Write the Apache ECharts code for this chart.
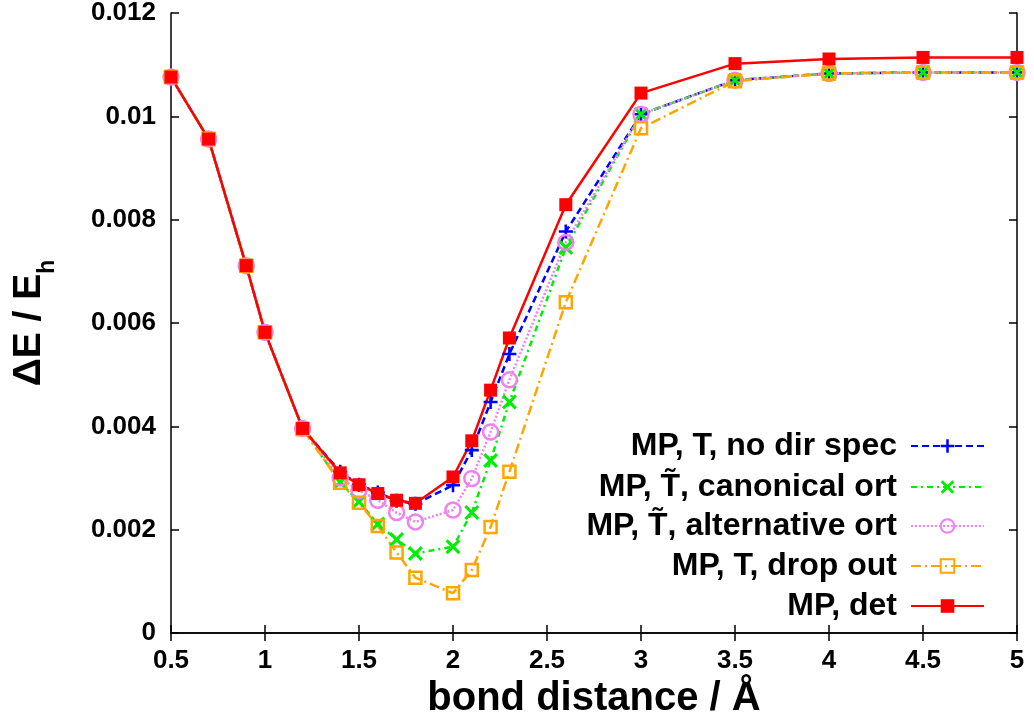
<!DOCTYPE html>
<html>
<head>
<meta charset="utf-8">
<script src="https://cdn.jsdelivr.net/npm/echarts@6/dist/echarts.min.js"></script>
<style>
html,body{margin:0;padding:0;background:#fff;}
#chart{width:1034px;height:725px;}
</style>
</head>
<body>
<div id="chart"></div>
<script>
// ---- data ----
var distances = [0.5,0.7,0.9,1.0,1.2,1.4,1.5,1.6,1.7,1.8,2.0,2.1,2.2,2.3,2.6,3.0,3.5,4.0,4.5,5.0];
var noDirSpec = [0.01076,0.00956,0.00711,0.00582,0.00396,0.00312,0.00287,0.00272,0.00256,0.00250,0.00286,0.00354,0.00447,0.00540,0.00777,0.01004,0.01070,0.01083,0.01085,0.01085];
var canonicalOrt = [0.01076,0.00956,0.00711,0.00582,0.00395,0.00292,0.00254,0.00211,0.00181,0.00154,0.00167,0.00233,0.00334,0.00447,0.00746,0.01004,0.01070,0.01083,0.01085,0.01085];
var alternativeOrt = [0.01076,0.00956,0.00711,0.00582,0.00396,0.00300,0.00276,0.00257,0.00233,0.00215,0.00238,0.00299,0.00389,0.00490,0.00756,0.01004,0.01070,0.01083,0.01085,0.01085];
var dropOut = [0.01076,0.00956,0.00711,0.00582,0.00395,0.00291,0.00252,0.00207,0.00156,0.00107,0.00077,0.00122,0.00205,0.00312,0.00640,0.00977,0.01068,0.01083,0.01085,0.01085];
var det = [0.01076,0.00956,0.00711,0.00582,0.00396,0.00310,0.00287,0.00270,0.00257,0.00251,0.00302,0.00372,0.00470,0.00571,0.00829,0.01045,0.01102,0.01111,0.01114,0.01114];
var seriesNames = ['MP, T, no dir spec','MP, T\u0303, canonical ort','MP, T\u0303, alternative ort','MP, T, drop out','MP, det'];

function pairs(ys){ return distances.map(function(x,i){return [x, ys[i]];}); }

var FONT = 'Liberation Sans';
var PLUS = 'path://M-1.3,-7H1.3V-1.3H7V1.3H1.3V7H-1.3V1.3H-7V-1.3H-1.3Z';
var CROSS = 'path://M4.1,-5.8L5.8,-4.1L1.7,0L5.8,4.1L4.1,5.8L0,1.7L-4.1,5.8L-5.8,4.1L-1.7,0L-5.8,-4.1L-4.1,-5.8L0,-1.7Z';

var chart = echarts.init(document.getElementById('chart'), null, {renderer:'canvas'});

var axisLine = {show:true, lineStyle:{color:'#000', width:1.5}};
var axisTick = {show:true, inside:true, length:8, lineStyle:{color:'#000', width:1.5}};
var tickLabel = {color:'#000', fontFamily:FONT, fontWeight:'bold', fontSize:26};

function legendFor(name, centerY){
  return {
    data:[name], right:49, top:centerY-17, align:'right', orient:'vertical',
    padding:0, itemWidth:73, itemHeight:17, selectedMode:false,
    textStyle:{color:'#000', fontFamily:FONT, fontWeight:'bold', fontSize:32, lineHeight:34, padding:[0,9,0,0]}
  };
}

var option = {
  animation:false,
  backgroundColor:'#fff',
  grid:{left:171, right:17, top:12, bottom:92, containLabel:false},
  legend:[
    legendFor(seriesNames[0],446),
    legendFor(seriesNames[1],487),
    legendFor(seriesNames[2],526),
    legendFor(seriesNames[3],566),
    legendFor(seriesNames[4],606)
  ],
  xAxis:[{
    type:'value', min:0.5, max:5, interval:0.5, position:'bottom',
    axisLine:axisLine, axisTick:axisTick, splitLine:{show:false},
    axisLabel:Object.assign({margin:15}, tickLabel),
    name:'bond distance / \u00c5', nameLocation:'middle', nameGap:43,
    nameTextStyle:{color:'#000', fontFamily:FONT, fontWeight:'bold', fontSize:40}
  },{
    type:'value', min:0.5, max:5, interval:0.5, position:'top',
    axisLine:axisLine, axisTick:axisTick, splitLine:{show:false}, axisLabel:{show:false}
  }],
  yAxis:[{
    type:'value', min:0, max:0.012, interval:0.002, position:'left',
    axisLine:axisLine, axisTick:axisTick, splitLine:{show:false},
    axisLabel:Object.assign({margin:15}, tickLabel),
    name:'{a|\u0394E / E}{b|h}', nameLocation:'middle', nameRotate:90, nameGap:112,
    nameTextStyle:{color:'#000', rich:{
      a:{fontFamily:FONT, fontWeight:'bold', fontSize:39, color:'#000'},
      b:{fontFamily:FONT, fontWeight:'bold', fontSize:23, color:'#000', padding:[36,0,0,0]}
    }}
  },{
    type:'value', min:0, max:0.012, interval:0.002, position:'right',
    axisLine:axisLine, axisTick:axisTick, splitLine:{show:false}, axisLabel:{show:false}
  }],
  series:[
    {name:seriesNames[0], type:'line', data:pairs(noDirSpec), symbol:PLUS, symbolSize:14,
     lineStyle:{color:'#0000ff', width:2.5, type:[7,4]}, itemStyle:{color:'#0000ff'}},
    {name:seriesNames[1], type:'line', data:pairs(canonicalOrt), symbol:CROSS, symbolSize:15,
     lineStyle:{color:'#00ee00', width:2.5, type:[6,4,2,4]}, itemStyle:{color:'#00ee00'}},
    {name:seriesNames[2], type:'line', data:pairs(alternativeOrt), symbol:'circle', symbolSize:15,
     lineStyle:{color:'#ee82ee', width:2.5, type:[2,2]}, itemStyle:{color:'rgba(0,0,0,0)', borderColor:'#ee82ee', borderWidth:2.5}},
    {name:seriesNames[3], type:'line', data:pairs(dropOut), symbol:'rect', symbolSize:12,
     lineStyle:{color:'#ffa500', width:2.5, type:[10,4,2,4]}, itemStyle:{color:'rgba(0,0,0,0)', borderColor:'#ffa500', borderWidth:2.5}},
    {name:seriesNames[4], type:'line', data:pairs(det), symbol:'rect', symbolSize:13,
     lineStyle:{color:'#ff0000', width:2.5, type:'solid'}, itemStyle:{color:'#ff0000'}}
  ]
};
chart.setOption(option);
</script>
</body>
</html>
